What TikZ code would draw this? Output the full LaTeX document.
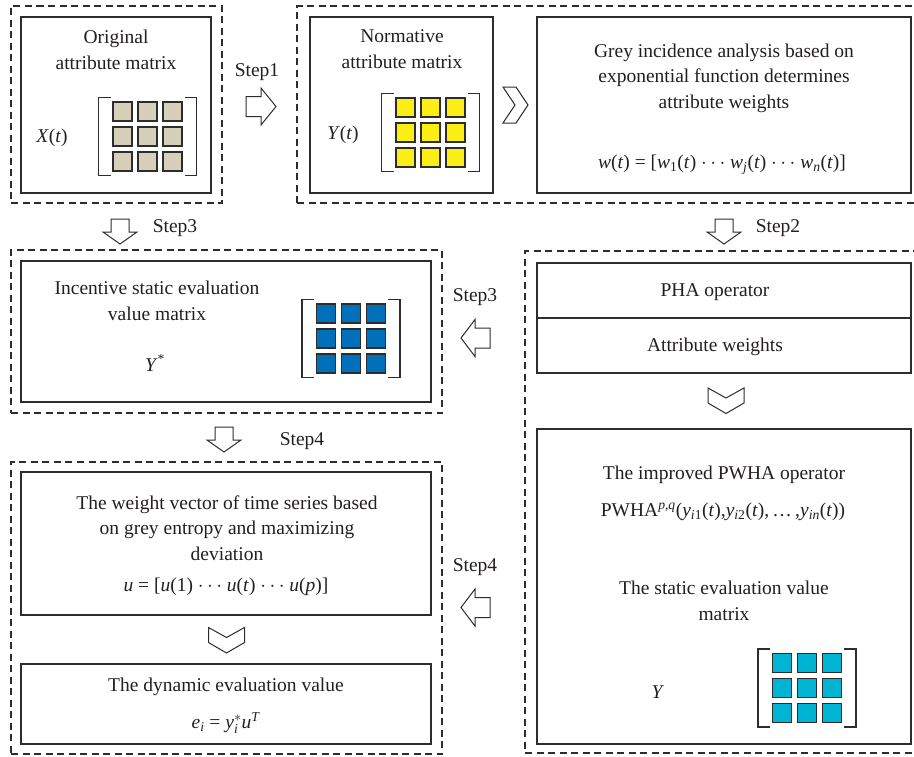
\documentclass[tikz,border=0pt]{standalone}
\usepackage{fontspec}
\setmainfont{Liberation Serif}
\newcommand\itx[1]{\textit{#1}}
\newcommand\sbx[1]{\textsubscript{#1}}
\newcommand\spx[1]{\textsuperscript{#1}}
\definecolor{tanc}{RGB}{214,207,186}
\definecolor{yelc}{RGB}{250,238,20}
\definecolor{bluec}{RGB}{0,112,186}
\definecolor{cyanc}{RGB}{0,180,212}
\definecolor{linec}{RGB}{45,45,45}
\definecolor{textc}{RGB}{35,31,32}
\newcommand\drawmat[3]{% cx, cy, colour
  \foreach \i in {-1,0,1}{\foreach \j in {-1,0,1}{
    \draw[sqr, fill=#3] ({#1+25*\i-9.5},{#2+25*\j-9.5}) rectangle ++(19,19);}}
  \draw[brk] ({#1-37},{#2-39}) -- ({#1-49},{#2-39}) -- ({#1-49},{#2+39}) -- ({#1-37},{#2+39});
  \draw[brk] ({#1+37},{#2-39}) -- ({#1+49},{#2-39}) -- ({#1+49},{#2+39}) -- ({#1+37},{#2+39});
}
\newcommand\arrowR[2]{% tail x, centre y
  \draw[barrow] (#1,{#2-10}) -- ({#1+15},{#2-10}) -- ({#1+15},{#2-18.5}) -- ({#1+30},#2)
   -- ({#1+15},{#2+18.5}) -- ({#1+15},{#2+10}) -- (#1,{#2+10}) -- cycle;}
\newcommand\arrowL[2]{% tail x, centre y
  \draw[barrow] (#1,{#2-10}) -- ({#1-15},{#2-10}) -- ({#1-15},{#2-18.5}) -- ({#1-29},#2)
   -- ({#1-15},{#2+18.5}) -- ({#1-15},{#2+10}) -- (#1,{#2+10}) -- cycle;}
\newcommand\arrowD[2]{% centre x, tail y
  \draw[barrow] ({#1-9},#2) -- ({#1-9},{#2+13}) -- ({#1-17},{#2+13}) -- (#1,{#2+25})
   -- ({#1+17},{#2+13}) -- ({#1+9},{#2+13}) -- ({#1+9},#2) -- cycle;}
\newcommand\chevD[2]{% centre x, top y
  \draw[barrow] ({#1-18},#2) -- (#1,{#2+10}) -- ({#1+18},#2) -- ({#1+18},{#2+15})
   -- (#1,{#2+25.5}) -- ({#1-18},{#2+15}) -- cycle;}
\begin{document}
\begin{tikzpicture}[x=1pt,y=-1pt,
  dashbox/.style={draw=linec, line width=1.1pt, dash pattern=on 7pt off 4.5pt, inner sep=0pt},
  solidbox/.style={draw=linec, line width=1.2pt, inner sep=0pt},
  txt/.style={font=\fontsize{19.5}{25.5}\selectfont, align=center, inner sep=0pt, text=textc},
  sqr/.style={draw=linec, line width=1.1pt},
  brk/.style={draw=linec, line width=1.2pt},
  barrow/.style={draw=linec, line width=1pt, fill=white, line join=miter}]
\useasboundingbox (0,0) rectangle (914,756);
% dashed groups
\node[dashbox, minimum width=211pt, minimum height=197pt] (d1) at (116.5,104.5) {};
\node[dashbox, minimum width=623pt, minimum height=197pt] (d2) at (608.5,104.5) {};
\node[dashbox, minimum width=431pt, minimum height=163pt] (d3) at (226.5,331.5) {};
\node[dashbox, minimum width=395pt, minimum height=502pt] (d4) at (722.5,502) {};
\node[dashbox, minimum width=431pt, minimum height=292pt] (d5) at (226.5,608) {};
% solid boxes
\node[solidbox, minimum width=190pt, minimum height=176pt] (s1) at (116,105) {};
\node[solidbox, minimum width=183pt, minimum height=176pt] (s2) at (401.5,105) {};
\node[solidbox, minimum width=374pt, minimum height=176pt] (s3) at (724,105) {};
\node[solidbox, minimum width=410pt, minimum height=141pt] (s4) at (226,331.5) {};
\node[solidbox, minimum width=374pt, minimum height=55pt] (pha) at (724,290.5) {};
\node[solidbox, minimum width=374pt, minimum height=55pt] (att) at (724,345.5) {};
\node[solidbox, minimum width=374pt, minimum height=315pt] (imp) at (724,586.5) {};
\node[solidbox, minimum width=410pt, minimum height=143pt] (wv) at (226,543.5) {};
\node[solidbox, minimum width=410pt, minimum height=80pt] (dyn) at (226,704) {};
% texts
\node[txt] (t1) at (116,50) {Original\\attribute matrix};
\node[txt] (xt) at (52,138) {\itx{X}(\itx{t})};
\node[txt] (t2) at (402,49) {Normative\\attribute matrix};
\node[txt] (yt) at (343,135) {\itx{Y}(\itx{t})};
\node[txt] (t3) at (724,78) {Grey incidence analysis based on\\exponential function determines\\attribute weights};
\node[txt] (wf) at (722,165) {\itx{w}(\itx{t}) = [\itx{w}\sbx{1}(\itx{t}) $\cdots$ \itx{w}\sbx{\itx{j}}(\itx{t}) $\cdots$ \itx{w}\sbx{\itx{n}}(\itx{t})]};
\node[txt] (t4) at (157,301) {Incentive static evaluation\\value matrix};
\node[txt] (ys) at (155,363) {\itx{Y}\spx{*}};
\node[txt] (t5) at (715,292) {PHA operator};
\node[txt] (t6) at (715,347) {Attribute weights};
\node[txt] (t7) at (724,475) {The improved PWHA operator};
\node[txt] (pf) at (723,512) {PWHA\spx{\itx{p},\itx{q}}(\itx{y}\sbx{\itx{i}1}(\itx{t}),\itx{y}\sbx{\itx{i}2}(\itx{t}),\,…\,,\itx{y}\sbx{\itx{in}}(\itx{t}))};
\node[txt] (t8) at (724,601) {The static evaluation value\\matrix};
\node[txt] (yy) at (658,692) {\itx{Y}};
\node[txt] (t9) at (227,528) {The weight vector of time series based\\on grey entropy and maximizing\\deviation};
\node[txt] (uf) at (226,587) {\itx{u} = [\itx{u}(1) $\cdots$ \itx{u}(\itx{t}) $\cdots$ \itx{u}(\itx{p})]};
\node[txt] (t10) at (226,687) {The dynamic evaluation value};
\node[txt] (ef) at (226,723) {\itx{e}\sbx{\itx{i}} = $\mathit{y}_{\mathit{i}}^{*}$\itx{u}\spx{\itx{T}}};
% step labels
\node[txt] (st1) at (257,72) {Step1};
\node[txt] (st3a) at (175,228) {Step3};
\node[txt] (st2) at (778,228) {Step2};
\node[txt] (st3b) at (475,297) {Step3};
\node[txt] (st4a) at (302,441) {Step4};
\node[txt] (st4b) at (475,567) {Step4};
% matrices
\drawmat{147.5}{136.5}{tanc}
\drawmat{430.5}{132.5}{yelc}
\drawmat{351}{338.5}{bluec}
\drawmat{807}{688}{cyanc}
% block arrows
\arrowR{246}{106.5}
\arrowD{120}{219}
\arrowD{724}{219}
\arrowD{224}{427}
\arrowL{490}{338}
\arrowL{490}{607.5}
% chevrons
\draw[barrow] (503,87) -- (516,87) -- (528,105) -- (516,123) -- (503,123) -- (515,105) -- cycle;
\chevD{726}{388}
\chevD{226.5}{627.5}
\end{tikzpicture}
\end{document}
